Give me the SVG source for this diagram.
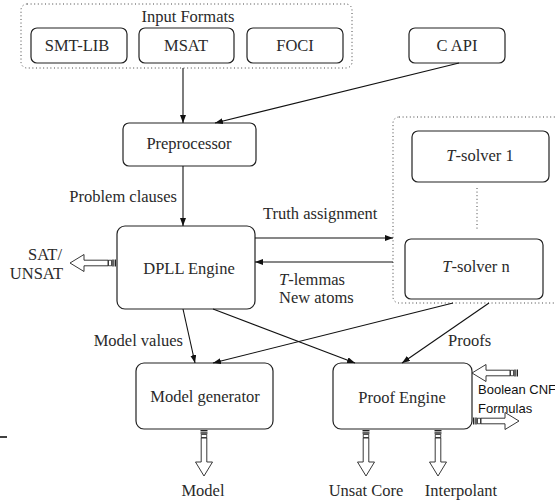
<svg xmlns="http://www.w3.org/2000/svg" width="555" height="502" viewBox="0 0 555 502" font-family="'Liberation Serif', 'Times New Roman', serif">
<style>
text{font-size:16.5px;fill:#2a2a2a}
.m{text-anchor:middle}
.e{text-anchor:end}
.sans{font-family:'Liberation Sans', Arial, sans-serif;font-size:13px;fill:#111}
.box{fill:#fff;stroke:#222;stroke-width:1.2}
.dot{fill:none;stroke:#444;stroke-width:1;stroke-dasharray:1 2.6}
.ca{fill:none;stroke:#111;stroke-width:1.1;marker-end:url(#ah)}
</style>
<defs>
<marker id="ah" viewBox="0 0 8 6" refX="8" refY="3" markerWidth="8" markerHeight="6" orient="auto" markerUnits="userSpaceOnUse"><path d="M0,0 L8,3 L0,6 Z" fill="#111"/></marker>
<g id="fat">
<rect x="1" y="-3.5" width="1.4" height="7" fill="#222"/>
<rect x="3.3" y="-3.5" width="1.4" height="7" fill="#222"/>
<rect x="5.6" y="-2.8" width="2.8" height="5.6" fill="#fff" stroke="#222" stroke-width="0.8"/>
<path d="M9,-2.8 H33 V-8.5 L47,0 L33,8.5 V2.8 H9 Z" fill="#fff" stroke="#222" stroke-width="0.9"/>
</g>
</defs>

<g id="input-formats">
<rect class="dot" x="21" y="4" width="331" height="64" rx="6"/>
<text class="m" x="188" y="22">Input Formats</text>
</g>
<g id="smtlib"><rect class="box" x="31" y="28" width="96" height="35" rx="6"/><text class="m" x="77" y="51">SMT-LIB</text></g>
<g id="msat"><rect class="box" x="139" y="28" width="95" height="35" rx="6"/><text class="m" x="186" y="51">MSAT</text></g>
<g id="foci"><rect class="box" x="247" y="28" width="96" height="35" rx="6"/><text class="m" x="295" y="51">FOCI</text></g>
<g id="capi"><rect class="box" x="409" y="28" width="96" height="35" rx="6"/><text class="m" x="457" y="51">C API</text></g>
<g id="preprocessor"><rect class="box" x="123" y="123" width="133" height="43" rx="6"/><text class="m" x="189" y="149">Preprocessor</text></g>

<g id="tsolvers">
<rect class="dot" x="393" y="117" width="175" height="186" rx="6"/>
<line class="dot" x1="477" y1="188" x2="477" y2="231"/>
</g>
<g id="tsolver1"><rect class="box" x="412" y="131" width="137" height="51" rx="6"/><text class="m" x="480" y="161"><tspan font-style="italic">T</tspan>-solver 1</text></g>
<g id="tsolvern"><rect class="box" x="405" y="239" width="138" height="60" rx="6"/><text class="m" x="476" y="272"><tspan font-style="italic">T</tspan>-solver n</text></g>

<g id="dpll"><rect class="box" x="117" y="226" width="138" height="83" rx="8"/><text class="m" x="189" y="274">DPLL Engine</text></g>
<g id="modelgen"><rect class="box" x="136" y="363" width="137" height="66" rx="8"/><text class="m" x="205" y="402">Model generator</text></g>
<g id="proofengine"><rect class="box" x="333" y="363" width="139" height="66" rx="8"/><text class="m" x="402" y="403">Proof Engine</text></g>

<g id="connectors">
<line class="ca" x1="183" y1="68" x2="183" y2="123"/>
<line class="ca" x1="459" y1="63" x2="215" y2="123"/>
<line class="ca" x1="183" y1="166" x2="183" y2="226"/>
<line class="ca" x1="255" y1="238" x2="393" y2="238"/>
<line class="ca" x1="393" y1="262" x2="255" y2="262"/>
<line class="ca" x1="183" y1="309" x2="195" y2="363"/>
<line class="ca" x1="213" y1="309" x2="355" y2="363"/>
<line class="ca" x1="453" y1="303" x2="213" y2="363"/>
<line class="ca" x1="489" y1="303" x2="402" y2="363"/>
<use href="#fat" transform="translate(117,263) rotate(180)"/>
<use href="#fat" transform="translate(204,429) rotate(90)"/>
<use href="#fat" transform="translate(366,429) rotate(90)"/>
<use href="#fat" transform="translate(438,429) rotate(90)"/>
<use href="#fat" transform="translate(519,373) rotate(180)"/>
<use href="#fat" transform="translate(472,421)"/>
<line x1="0" y1="437" x2="7" y2="437" stroke="#111" stroke-width="1.6"/>
</g>

<g id="labels">
<text class="e" x="177" y="202">Problem clauses</text>
<text x="263" y="219">Truth assignment</text>
<text x="279" y="285"><tspan font-style="italic">T</tspan>-lemmas</text>
<text x="279" y="303">New atoms</text>
<text class="e" x="62" y="260">SAT/</text>
<text class="e" x="63" y="279">UNSAT</text>
<text class="e" x="183" y="346">Model values</text>
<text x="448" y="346">Proofs</text>
<text class="sans" x="478" y="394">Boolean CNF</text>
<text class="sans" x="478" y="413">Formulas</text>
<text class="m" x="203" y="496">Model</text>
<text class="m" x="366" y="496">Unsat Core</text>
<text class="m" x="461" y="496">Interpolant</text>
</g>
</svg>
